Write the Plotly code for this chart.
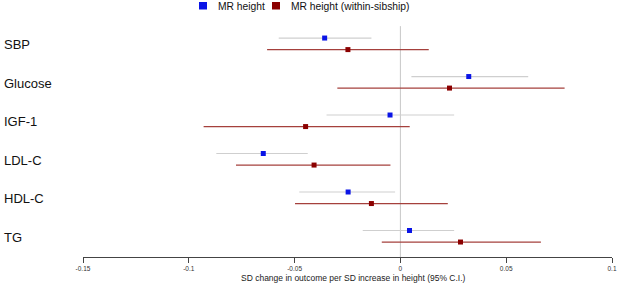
import plotly.graph_objects as go

outcomes = ["SBP", "Glucose", "IGF-1", "LDL-C", "HDL-C", "TG"]
mr_est = [-0.0358, 0.0323, -0.0049, -0.0648, -0.0247, 0.0043]
mr_lo = [-0.0575, 0.0052, -0.0349, -0.0870, -0.0478, -0.0178]
mr_hi = [-0.0137, 0.0604, 0.0254, -0.0438, -0.0025, 0.0254]
sib_est = [-0.0248, 0.0232, -0.0448, -0.0408, -0.0137, 0.0284]
sib_lo = [-0.0630, -0.0298, -0.0930, -0.0777, -0.0498, -0.0088]
sib_hi = [0.0134, 0.0776, 0.0044, -0.0047, 0.0224, 0.0664]
xticks = [-0.15, -0.1, -0.05, 0, 0.05, 0.1]
xticklabels = ["-0.15", "-0.1", "-0.05", "0", "0.05", "0.1"]
series_names = ["MR height", "MR height (within-sibship)"]
series_colors = ["#0a14e6", "#8b0000"]
ci_colors = ["#cfcfcf", "#a5403c"]

n = len(outcomes)
centers = [n - i for i in range(n)]
off = 0.15
FONT = "Arial, Liberation Sans, sans-serif"

# plot area in pixels
L, R, T, B = 83, 612, 20, 257
W, H = 617, 283


def px_x(px):
    return (px - L) / (R - L)


def px_y(py):
    return (B - py) / (B - T)


fig = go.Figure()

for est, lo, hi, sgn, col, cicol in [
        (mr_est, mr_lo, mr_hi, 1, series_colors[0], ci_colors[0]),
        (sib_est, sib_lo, sib_hi, -1, series_colors[1], ci_colors[1])]:
    fig.add_trace(go.Scatter(
        x=est, y=[c + sgn * off for c in centers], mode="markers",
        marker=dict(symbol="square", size=5, color=col, line=dict(width=0)),
        error_x=dict(type="data", symmetric=False,
                     array=[h - e for h, e in zip(hi, est)],
                     arrayminus=[e - l for e, l in zip(est, lo)],
                     color=cicol, thickness=1.2, width=0),
        showlegend=False, hoverinfo="skip"))

ymin, ymax = 0.461, 6.619
fig.add_shape(type="line", x0=0, x1=0, y0=ymin, y1=6.46, xref="x", yref="y",
              line=dict(color="#c8c8c8", width=1), layer="below")

for name, c in zip(outcomes, centers):
    fig.add_annotation(text=name, x=0, xref="paper", xshift=2 - L, xanchor="left",
                       y=c - 0.03, yref="y", yanchor="middle", showarrow=False,
                       font=dict(family=FONT, size=13, color="#111111"))

# manual legend
leg_sq = [(199, 207), (272, 280)]
leg_txt = [216, 289]
for nm, col, (sx0, sx1), tx in zip(series_names, series_colors, leg_sq, leg_txt):
    fig.add_shape(type="rect", xref="paper", yref="paper",
                  x0=px_x(sx0), x1=px_x(sx1), y0=px_y(9.5), y1=px_y(2),
                  fillcolor=col, line=dict(width=0))
    fig.add_annotation(text=nm, x=0, xref="paper", xshift=tx - L, xanchor="left",
                       y=1, yref="paper", yshift=T - 6, yanchor="middle",
                       showarrow=False,
                       font=dict(family=FONT, size=10.3, color="#111111"))

fig.add_annotation(text="SD change in outcome per SD increase in height (95% C.I.)",
                   x=px_x(353.7), xref="paper", xanchor="center",
                   y=0, yref="paper", yshift=-(278 - B), yanchor="middle", showarrow=False,
                   font=dict(family=FONT, size=8.5, color="#222222"))

fig.update_layout(
    width=W, height=H,
    margin=dict(l=L, r=W - R, t=T, b=H - B, pad=0, autoexpand=False),
    paper_bgcolor="white", plot_bgcolor="white",
    font=dict(family=FONT, color="#222222"),
    showlegend=False,
    hovermode=False,
    xaxis=dict(range=[-0.15, 0.1], tickvals=xticks, ticktext=xticklabels,
               showgrid=False, zeroline=False, showline=True, linecolor="#444444",
               linewidth=1, ticks="outside", ticklen=5, tickcolor="#444444",
               tickfont=dict(family=FONT, size=6.5, color="#333333")),
    yaxis=dict(range=[ymin, ymax], visible=False),
)

fig.write_html("out.html", config={"displayModeBar": False, "staticPlot": True},
               post_script="document.body.style.margin='0';")
